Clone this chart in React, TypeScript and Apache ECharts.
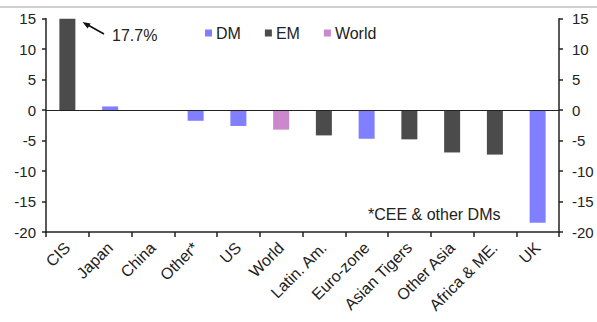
import React, { useEffect, useRef } from "react";
import * as echarts from "echarts";

// Regions along the x-axis
const categories = [
  "CIS", "Japan", "China", "Other*", "US", "World",
  "Latin. Am.", "Euro-zone", "Asian Tigers", "Other Asia", "Africa & ME.", "UK",
];
// Change, % (CIS runs off the top of the scale)
const values = [17.7, 0.6, 0, -1.75, -2.6, -3.2, -4.15, -4.7, -4.8, -6.95, -7.3, -18.5];
// Group each region belongs to
const groups = ["EM", "DM", "EM", "DM", "DM", "World", "EM", "DM", "EM", "EM", "EM", "DM"];

const seriesNames = ["DM", "EM", "World"];
const seriesColors = ["#7f7fff", "#4b4b4b", "#cc88cc"];
const yTicks = { min: -20, max: 15, interval: 5 };

const FONT = "Liberation Sans, Arial, sans-serif";
const AXIS = "#222";

export default function App() {
  const ref = useRef<HTMLDivElement>(null);

  useEffect(() => {
    if (!ref.current) return;
    const chart = echarts.init(ref.current, undefined, { renderer: "svg" });

    const yAxisBase = {
      type: "value" as const,
      min: yTicks.min,
      max: yTicks.max,
      interval: yTicks.interval,
      splitLine: { show: false },
      axisLine: { show: true, lineStyle: { color: AXIS, width: 1.5 } },
      axisTick: { show: true, length: 4, lineStyle: { color: AXIS, width: 1.5 } },
    };

    const series = seriesNames.map((name, si) => ({
      name,
      type: "bar" as const,
      barWidth: 16,
      barGap: "-100%",
      clip: true,
      itemStyle: { color: seriesColors[si] },
      data: values.map((v, i) => (groups[i] === name ? v : "-")),
      ...(si === 0
        ? {
            markLine: {
              silent: true,
              symbol: "none",
              label: { show: false },
              lineStyle: { color: AXIS, width: 1.2, type: "solid" },
              data: [{ yAxis: 0 }],
            },
          }
        : {}),
    }));

    chart.setOption({
      animation: false,
      backgroundColor: "#fff",
      textStyle: { fontFamily: FONT },
      grid: { left: 46, right: 38, top: 18.7, bottom: 90, containLabel: false },
      legend: {
        data: seriesNames,
        left: 200,
        top: 20,
        icon: "rect",
        itemWidth: 7,
        itemHeight: 7,
        itemGap: 24,
        textStyle: { fontSize: 16, color: "#222", fontFamily: FONT, padding: [0, 0, 0, -1] },
      },
      xAxis: {
        type: "category",
        data: categories,
        axisLine: { onZero: false, lineStyle: { color: AXIS, width: 1.5 } },
        axisTick: { show: true, length: 5, lineStyle: { color: AXIS, width: 1.5 } },
        axisLabel: {
          interval: 0,
          rotate: 45,
          margin: 13,
          fontSize: 16,
          color: "#222",
          fontFamily: FONT,
        },
      },
      yAxis: [
        {
          ...yAxisBase,
          position: "left",
          axisLabel: { margin: 10, fontSize: 15, color: "#222", fontFamily: FONT },
        },
        {
          ...yAxisBase,
          position: "right",
          axisLabel: { margin: 13, fontSize: 15, color: "#222", fontFamily: FONT },
        },
      ],
      series,
      graphic: [
        {
          type: "rect",
          shape: { x: 0, y: 6, width: 597, height: 2 },
          style: { fill: "#cfcfcf" },
          silent: true,
        },
        {
          type: "line",
          shape: { x1: 104, y1: 34, x2: 87, y2: 24.5 },
          style: { stroke: "#111", lineWidth: 1.6 },
          silent: true,
        },
        {
          type: "polygon",
          shape: { points: [[82.5, 22], [90.6, 23.4], [87.6, 28.4]] },
          style: { fill: "#111" },
          silent: true,
        },
        {
          type: "text",
          left: 112,
          top: 27,
          style: { text: "17.7%", fontSize: 16, fill: "#222", fontFamily: FONT },
          silent: true,
        },
        {
          type: "text",
          left: 368,
          top: 206,
          style: { text: "*CEE & other DMs", fontSize: 16, fill: "#222", fontFamily: FONT },
          silent: true,
        },
      ],
    });

    return () => chart.dispose();
  }, []);

  return (
    <div
      ref={ref}
      style={{ position: "fixed", left: 0, top: 0, width: 597, height: 322, background: "#fff" }}
    />
  );
}
